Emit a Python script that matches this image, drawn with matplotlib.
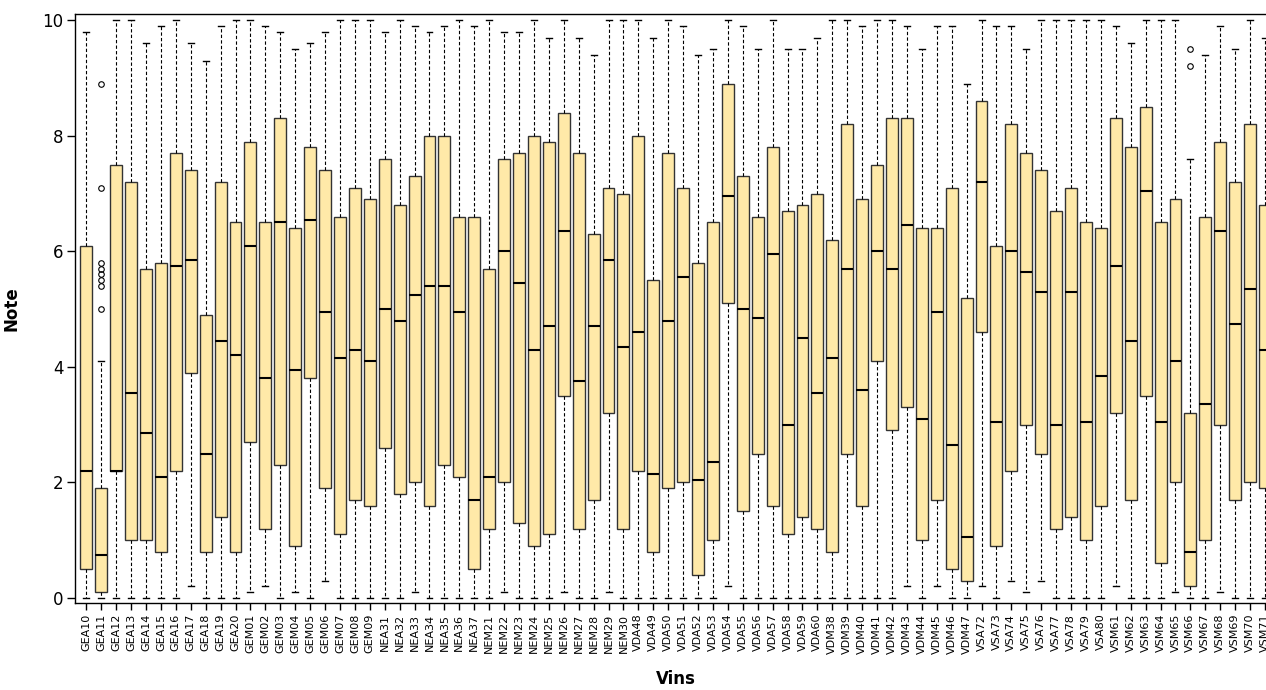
import numpy as np
import matplotlib
matplotlib.use("Agg")
import matplotlib.pyplot as plt

# wine codes, one box per wine
vins = ["GEA10", "GEA11", "GEA12", "GEA13", "GEA14", "GEA15", "GEA16", "GEA17", "GEA18", "GEA19", "GEA20",
        "GEM01", "GEM02", "GEM03", "GEM04", "GEM05", "GEM06", "GEM07", "GEM08", "GEM09",
        "NEA31", "NEA32", "NEA33", "NEA34", "NEA35", "NEA36", "NEA37",
        "NEM21", "NEM22", "NEM23", "NEM24", "NEM25", "NEM26", "NEM27", "NEM28", "NEM29", "NEM30",
        "VDA48", "VDA49", "VDA50", "VDA51", "VDA52", "VDA53", "VDA54", "VDA55", "VDA56", "VDA57",
        "VDA58", "VDA59", "VDA60",
        "VDM38", "VDM39", "VDM40", "VDM41", "VDM42", "VDM43", "VDM44", "VDM45", "VDM46", "VDM47",
        "VSA72", "VSA73", "VSA74", "VSA75", "VSA76", "VSA77", "VSA78", "VSA79", "VSA80",
        "VSM61", "VSM62", "VSM63", "VSM64", "VSM65", "VSM66", "VSM67", "VSM68", "VSM69", "VSM70", "VSM71"]

whis_lo = [0, 0, 0, 0, 0, 0, 0, 0.2, 0, 0, 0,
           0.1, 0.2, 0, 0.1, 0, 0.3, 0, 0, 0,
           0, 0, 0.1, 0, 0, 0, 0,
           0, 0.1, 0, 0, 0, 0.1, 0, 0, 0.1, 0,
           0, 0, 0, 0, 0, 0, 0.2, 0, 0, 0,
           0, 0, 0,
           0, 0, 0, 0, 0, 0.2, 0, 0.2, 0, 0,
           0.2, 0, 0.3, 0.1, 0.3, 0, 0, 0, 0,
           0.2, 0, 0, 0, 0.1, 0, 0, 0.1, 0, 0, 0]

q1 = [0.5, 0.1, 2.2, 1.0, 1.0, 0.8, 2.2, 3.9, 0.8, 1.4, 0.8,
      2.7, 1.2, 2.3, 0.9, 3.8, 1.9, 1.1, 1.7, 1.6,
      2.6, 1.8, 2.0, 1.6, 2.3, 2.1, 0.5,
      1.2, 2.0, 1.3, 0.9, 1.1, 3.5, 1.2, 1.7, 3.2, 1.2,
      2.2, 0.8, 1.9, 2.0, 0.4, 1.0, 5.1, 1.5, 2.5, 1.6,
      1.1, 1.4, 1.2,
      0.8, 2.5, 1.6, 4.1, 2.9, 3.3, 1.0, 1.7, 0.5, 0.3,
      4.6, 0.9, 2.2, 3.0, 2.5, 1.2, 1.4, 1.0, 1.6,
      3.2, 1.7, 3.5, 0.6, 2.0, 0.2, 1.0, 3.0, 1.7, 2.0, 1.9]

med = [2.2, 0.75, 2.2, 3.55, 2.85, 2.1, 5.75, 5.85, 2.5, 4.45, 4.2,
       6.1, 3.8, 6.5, 3.95, 6.55, 4.95, 4.15, 4.3, 4.1,
       5.0, 4.8, 5.25, 5.4, 5.4, 4.95, 1.7,
       2.1, 6.0, 5.45, 4.3, 4.7, 6.35, 3.75, 4.7, 5.85, 4.35,
       4.6, 2.15, 4.8, 5.55, 2.05, 2.35, 6.95, 5.0, 4.85, 5.95,
       3.0, 4.5, 3.55,
       4.15, 5.7, 3.6, 6.0, 5.7, 6.45, 3.1, 4.95, 2.65, 1.05,
       7.2, 3.05, 6.0, 5.65, 5.3, 3.0, 5.3, 3.05, 3.85,
       5.75, 4.45, 7.05, 3.05, 4.1, 0.8, 3.35, 6.35, 4.75, 5.35, 4.3]

q3 = [6.1, 1.9, 7.5, 7.2, 5.7, 5.8, 7.7, 7.4, 4.9, 7.2, 6.5,
      7.9, 6.5, 8.3, 6.4, 7.8, 7.4, 6.6, 7.1, 6.9,
      7.6, 6.8, 7.3, 8.0, 8.0, 6.6, 6.6,
      5.7, 7.6, 7.7, 8.0, 7.9, 8.4, 7.7, 6.3, 7.1, 7.0,
      8.0, 5.5, 7.7, 7.1, 5.8, 6.5, 8.9, 7.3, 6.6, 7.8,
      6.7, 6.8, 7.0,
      6.2, 8.2, 6.9, 7.5, 8.3, 8.3, 6.4, 6.4, 7.1, 5.2,
      8.6, 6.1, 8.2, 7.7, 7.4, 6.7, 7.1, 6.5, 6.4,
      8.3, 7.8, 8.5, 6.5, 6.9, 3.2, 6.6, 7.9, 7.2, 8.2, 6.8]

whis_hi = [9.8, 4.1, 10, 10, 9.6, 9.9, 10, 9.6, 9.3, 9.9, 10,
           10, 9.9, 9.8, 9.5, 9.6, 9.8, 10, 10, 10,
           9.8, 10, 9.9, 9.8, 9.9, 10, 9.9,
           10, 9.8, 9.8, 10, 9.7, 10, 9.7, 9.4, 10, 10,
           10, 9.7, 10, 9.9, 9.4, 9.5, 10, 9.9, 9.5, 10,
           9.5, 9.5, 9.7,
           10, 10, 9.9, 10, 10, 9.9, 9.5, 9.9, 9.9, 8.9,
           10, 9.9, 9.9, 9.5, 10, 10, 10, 10, 10,
           9.9, 9.6, 10, 10, 10, 7.6, 9.4, 9.9, 9.5, 10, 9.7]

outliers = {"GEA11": [8.9, 7.1, 5.8, 5.7, 5.6, 5.5, 5.4, 5.0],
            "VSM66": [9.5, 9.2]}

box_fill = "#FFE9A8"

stats = []
for i, v in enumerate(vins):
    stats.append({"label": v, "whislo": whis_lo[i], "q1": q1[i], "med": med[i],
                  "q3": q3[i], "whishi": whis_hi[i], "fliers": outliers.get(v, [])})

fig = plt.figure(figsize=(12.66, 6.9), dpi=100)
ax = fig.add_axes([0.059, 0.1267, 0.9494, 0.8523])

pos = np.arange(1, len(vins) + 1)
ax.bxp(stats, positions=pos, widths=0.8, capwidths=0.4, patch_artist=True,
       boxprops=dict(facecolor=box_fill, edgecolor="#333333", linewidth=1.0),
       medianprops=dict(color="black", linewidth=1.5),
       whiskerprops=dict(color="black", linewidth=0.8, linestyle=(0, (3, 2))),
       capprops=dict(color="black", linewidth=1.0),
       flierprops=dict(marker="o", markersize=4, markerfacecolor="none",
                       markeredgecolor="black", markeredgewidth=0.8))

ax.set_xlim(0.22, 80.78)
ax.set_ylim(-0.08, 10.1)
ax.set_yticks([0, 2, 4, 6, 8, 10])
ax.set_xticks(pos)
ax.set_xticklabels(vins, rotation=90, fontsize=8,
                   family=["Liberation Sans Narrow", "DejaVu Sans"])
ax.tick_params(axis="y", length=6, width=1, labelsize=12, pad=2)
ax.tick_params(axis="x", length=5, width=1, pad=3)
for sp in ax.spines.values():
    sp.set_linewidth(1.0)

ax.set_ylabel("Note", fontsize=12, fontweight="bold", labelpad=16)
ax.set_xlabel("Vins", fontsize=12, fontweight="bold", labelpad=12)

fig.savefig("out.png", dpi=100)
plt.close()
